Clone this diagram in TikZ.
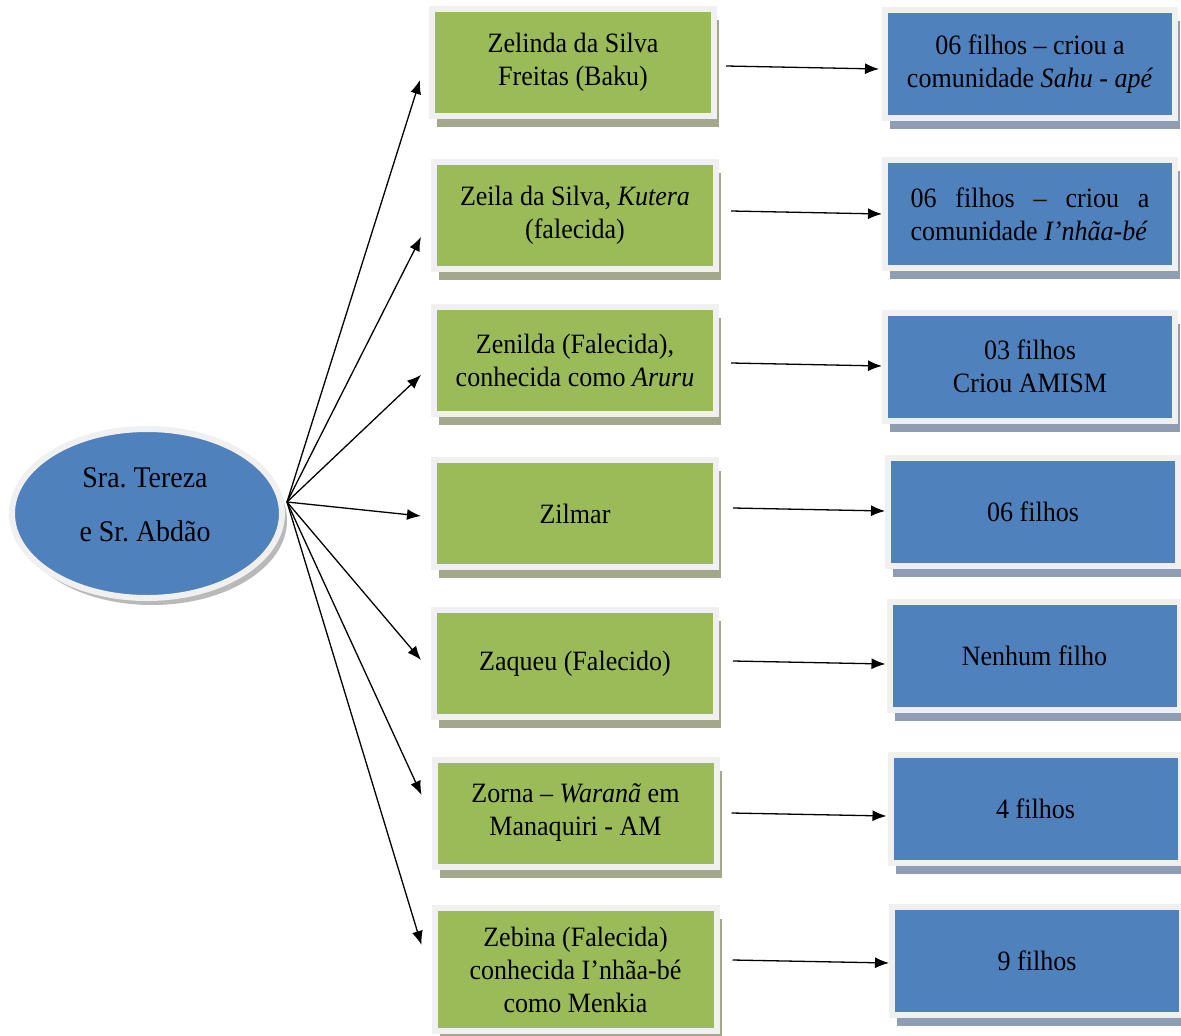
\documentclass[tikz,border=0pt]{standalone}
\usepackage{fontspec}
\setmainfont{Liberation Serif}[FakeStretch=0.93]
\usepackage{tikz}
\usetikzlibrary{arrows.meta,shadows,shapes.geometric}
\frenchspacing

\definecolor{leafgreen}{HTML}{9BBB59}
\definecolor{skyblue}{HTML}{4F81BD}
\definecolor{rimgray}{HTML}{F0F0F0}
\definecolor{greenshade}{HTML}{A3A78B}
\definecolor{blueshade}{HTML}{8E9DB3}

\begin{document}
\begin{tikzpicture}[x=1pt,y=-1pt,
	kidbox/.style={rectangle,fill=leafgreen,draw=rimgray,line width=6pt,
		minimum width=282pt,minimum height=107pt,inner sep=2pt,align=center,
		font=\fontsize{28}{33}\selectfont,
		drop shadow={shadow xshift=5pt,shadow yshift=-11pt,fill=greenshade,opacity=1}},
	notebox/.style={rectangle,fill=skyblue,draw=rimgray,line width=6pt,
		minimum width=290pt,minimum height=108pt,inner sep=2pt,align=center,
		font=\fontsize{28}{33}\selectfont,
		drop shadow={shadow xshift=5pt,shadow yshift=-11pt,fill=blueshade,opacity=1}},
	parents/.style={ellipse,fill=skyblue,draw=rimgray,line width=6pt,
		minimum width=270pt,minimum height=169pt,inner sep=0pt,align=center,
		font=\fontsize{30}{54}\selectfont,
		drop shadow={shadow xshift=5pt,shadow yshift=-7pt,fill=gray!55,opacity=1}},
	arr/.style={line width=1.3pt,-{Latex[length=14pt,width=11pt]}}]
				\fill[white] (0,0) rectangle (1181,1036);
				\useasboundingbox (0,0) rectangle (1181,1036);
				% the couple
				\node[parents] (couple) at (147,513.5) {};
				\node[font=\fontsize{30}{54}\selectfont,align=center] (names) at (145,505) {Sra. Tereza\\e Sr. Abdão};
				\coordinate (hub) at (287,502);
				% the children
				\node[kidbox] (g1) at (573,62.5) {Zelinda da Silva\\Freitas (Baku)};
				\node[kidbox] (g2) at (575,215.5) {Zeila da Silva, \textit{Kutera}\\(falecida)};
				\node[kidbox] (g3) at (575,360) {Zenilda (Falecida),\\conhecida como \textit{Aruru}};
				\node[kidbox] (g4) at (575,513.5) {Zilmar};
				\node[kidbox] (g5) at (575,663.5) {Zaqueu (Falecido)};
				\node[kidbox] (g6) at (575.5,813) {Zorna – \textit{Waranã} em\\Manaquiri - AM};
				\node[kidbox,minimum height=123pt] (g7) at (575.5,969.5) {Zebina (Falecida)\\conhecida I’nhãa-bé\\como Menkia};
				% what each of them left
				\node[notebox] (b1) at (1030,64) {06 filhos – criou a\\comunidade \textit{Sahu - apé}};
				\node[notebox,align=left] (b2) at (1030,214) {\makebox[239pt][s]{06 filhos – criou a}\\comunidade \textit{I’nhãa-bé}};
				\node[notebox] (b3) at (1030,366.5) {03 filhos\\Criou AMISM};
				\node[notebox] (b4) at (1033,512) {06 filhos};
				\node[notebox] (b5) at (1034.5,656) {Nenhum filho};
				\node[notebox] (b6) at (1035.5,809) {4 filhos};
				\node[notebox] (b7) at (1037,961) {9 filhos};
				% fan of arrows from the couple
				\draw[arr] (hub) -- ([shift={(-9,17.5)}]g1.west);
				\draw[arr] (hub) -- ([shift={(-10,21.5)}]g2.west);
				\draw[arr] (hub) -- ([shift={(-10,15)}]g3.west);
				\draw[arr] (hub) -- ([shift={(-10,2.5)}]g4.west);
				\draw[arr] (hub) -- ([shift={(-10,-3.5)}]g5.west);
				\draw[arr] (hub) -- ([shift={(-10,-18)}]g6.west);
				\draw[arr] (hub) -- ([shift={(-10,-24.5)}]g7.west);
				% child -> descendants
				\draw[arr] ([shift={(9,3.5)}]g1.east) -- ([shift={(-3,5)}]b1.west);
				\draw[arr] ([shift={(12,-4.5)}]g2.east) -- ([shift={(0,0)}]b2.west);
				\draw[arr] ([shift={(12,3)}]g3.east) -- ([shift={(0,-0.5)}]b3.west);
				\draw[arr] ([shift={(14,-5.5)}]g4.east) -- ([shift={(0,-1)}]b4.west);
				\draw[arr] ([shift={(14,-2.5)}]g5.east) -- ([shift={(-1,8)}]b5.west);
				\draw[arr] ([shift={(12,0)}]g6.east) -- ([shift={(-1,7)}]b6.west);
				\draw[arr] ([shift={(13,-9.5)}]g7.east) -- ([shift={(0,2)}]b7.west);
			\end{tikzpicture}
\end{document}
